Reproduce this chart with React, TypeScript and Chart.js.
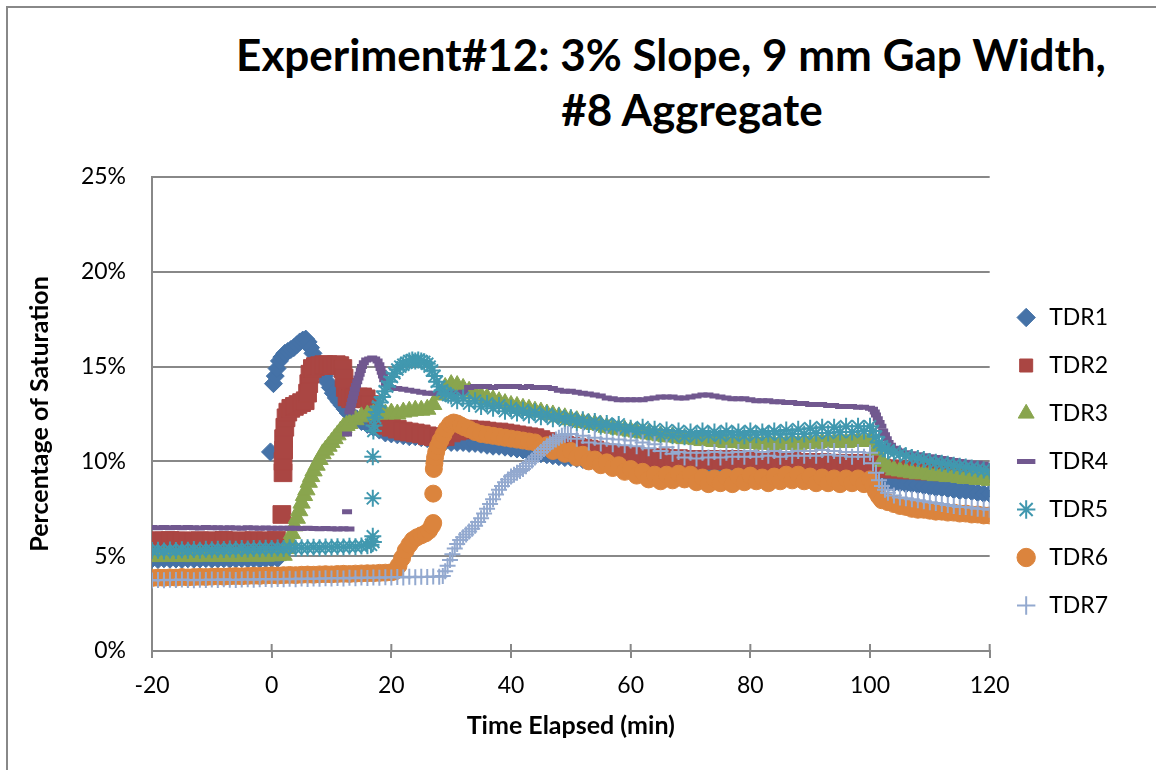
import React, { useEffect, useRef } from "react";
import { Chart, registerables } from "chart.js";
Chart.register(...registerables);

type P = [number, number];

const seriesNames = ["TDR1", "TDR2", "TDR3", "TDR4", "TDR5", "TDR6", "TDR7"];
const seriesColors = ["#4572A7", "#AA4643", "#89A54E", "#71588F", "#4198AF", "#DB843D", "#93A9CF"];
const seriesStyles = ["rectRot", "rect", "triangle", "line", "star", "circle", "cross"];
const xTickValues = [-20, 0, 20, 40, 60, 80, 100, 120];
const yTickValues = [0, 5, 10, 15, 20, 25];
const chartTitle = ["Experiment#12: 3% Slope, 9 mm Gap Width,", "#8 Aggregate"];
const xTitle = "Time Elapsed (min)";
const yTitle = "Percentage of Saturation";

const tdr1: P[] = [
  [-20,4.85],[-19,4.82],[-18,4.86],[-17,4.84],[-16,4.85],[-15,4.83],[-14,4.86],[-13,4.84],[-12,4.85],[-11,4.87],[-10,4.84],[-9,4.85],[-8,4.86],[-7,4.84],[-6,4.85],[-5,4.87],[-4,4.85],[-3,4.86],[-2,4.84],[-1,4.86],[0,4.87],[1,4.88],
  [-0.2,10.5],[0.3,14.1],[0.6,14.5],[0.9,14.9],[1.3,15.3],[1.7,15.5],[2.2,15.7],[2.7,15.8],[3.2,15.9],[3.7,16.0],[4.2,16.15],[4.7,16.3],[5.2,16.4],[5.7,16.45],[6.1,16.3],[6.5,16.0],[6.9,15.7],[7.3,15.4],[7.8,15.1],[8.3,14.8],[8.8,14.5],[9.3,14.2],[9.8,13.9],[10.3,13.6],[10.8,13.35],[11.3,13.15],[11.8,12.95],[12.3,12.75],[12.8,12.55],[13.5,12.4],[14.2,12.25],[15,12.1],[16,11.95],[17,11.8],[18,11.65],[19,11.5],[20,11.45],
  [21,11.4],[22,11.35],[23,11.3],[24,11.3],[25,11.25],[26,11.2],[27,11.15],[28,11.1],[29,11.05],[30,11.0],[31,11.0],[32,11.0],[33,10.95],[34,10.95],[35,10.9],[36,10.85],[37,10.8],[38,10.8],[39,10.75],[40,10.7],
  [41,10.65],[42,10.6],[43,10.5],[44,10.45],[45,10.4],[46,10.35],[47,10.3],[48,10.25],[49,10.2],[50,10.2],[51,10.15],[52,10.1],[53,10.1],[54,10.05],[55,10.05],[56,10.0],[57,10.0],[58,9.95],[59,9.95],[60,9.9],
  [61,9.9],[62,9.85],[63,9.9],[64,9.85],[65,9.85],[66,9.8],[67,9.85],[68,9.8],[69,9.85],[70,9.8],[71,9.8],[72,9.85],[73,9.8],[74,9.8],[75,9.75],[76,9.8],[77,9.75],[78,9.8],[79,9.75],[80,9.75],
  [81,9.8],[82,9.75],[83,9.75],[84,9.7],[85,9.75],[86,9.7],[87,9.75],[88,9.7],[89,9.7],[90,9.75],[91,9.7],[92,9.7],[93,9.75],[94,9.7],[95,9.7],[96,9.75],[97,9.7],[98,9.75],[99,9.7],[100,9.7],
  [100.6,9.45],[101.2,9.2],[101.8,9.05],[102.5,8.95],[103.2,8.9],[104,8.85],[105,8.85],[106,8.8],[107,8.8],[108,8.75],[109,8.7],[110,8.65],[111,8.6],[112,8.6],[113,8.55],[114,8.5],[115,8.45],[116,8.45],[117,8.4],[118,8.35],[119,8.3],[120,8.3],
];

const tdr2: P[] = [
  [-20,5.82],[-19,5.78],[-18,5.8],[-17,5.83],[-16,5.79],[-15,5.81],[-14,5.8],[-13,5.78],[-12,5.82],[-11,5.8],[-10,5.79],[-9,5.81],[-8,5.83],[-7,5.8],[-6,5.78],[-5,5.81],[-4,5.8],[-3,5.82],[-2,5.79],[-1,5.81],[0,5.8],[0.8,5.85],
  [1.7,7.2],[1.9,9.4],[1.9,10.0],[2,10.6],[2,11.2],[2.2,11.8],[2.4,12.3],[2.7,12.6],[3.2,12.8],[3.8,12.9],[4.4,13.0],[5,13.1],[5.6,13.2],[6,13.6],[6.2,14.1],[6.4,14.6],[6.8,14.9],[7.3,15.0],[8,15.05],[8.7,15.1],[9.4,15.1],[10.1,15.05],[10.8,15.1],[11.4,15.05],[11.9,14.9],[12.1,14.4],[12.3,13.9],[12.6,13.4],[13.2,13.3],[13.8,13.35],[14.5,13.4],[15.2,13.4],[15.8,13.3],[16.4,13.0],[17,12.6],[17.6,12.3],[18.2,12.1],[19,11.9],[20,11.8],
  [21,11.7],[22,11.6],[23,11.55],[24,11.5],[25,11.45],[26,11.35],[27,11.3],[28,11.25],[29,11.3],[30,11.5],[31,11.6],[32,11.7],[33,11.7],[34,11.65],[35,11.65],[36,11.6],[37,11.55],[38,11.55],[39,11.5],[40,11.45],
  [41,11.4],[42,11.35],[43,11.3],[44,11.25],[45,11.15],[46,11.05],[47,10.95],[48,10.9],[49,10.85],[50,10.8],[51,10.75],[52,10.7],[53,10.65],[54,10.6],[55,10.5],[56,10.45],[57,10.4],[58,10.35],[59,10.3],[60,10.3],
  [61,10.25],[62,10.2],[63,10.2],[64,10.15],[65,10.2],[66,10.15],[67,10.1],[68,10.15],[69,10.1],[70,10.1],[71,10.05],[72,10.1],[73,10.1],[74,10.05],[75,10.1],[76,10.05],[77,10.1],[78,10.1],[79,10.05],[80,10.1],
  [81,10.05],[82,10.0],[83,10.05],[84,10.0],[85,10.0],[86,9.95],[87,10.0],[88,9.95],[89,9.95],[90,9.95],[91,9.9],[92,9.95],[93,9.9],[94,9.9],[95,9.9],[96,9.9],[97,9.85],[98,9.9],[99,9.85],[100,9.85],
  [101,9.75],[102,9.65],[103,9.6],[104,9.6],[105,9.6],[106,9.55],[107,9.55],[108,9.55],[109,9.5],[110,9.5],[111,9.5],[112,9.45],[113,9.45],[114,9.45],[115,9.4],[116,9.4],[117,9.4],[118,9.4],[119,9.35],[120,9.35],
];

const tdr3: P[] = [
  [-20,5.0],[-19,4.98],[-18,5.02],[-17,5.0],[-16,4.99],[-15,5.01],[-14,5.0],[-13,4.98],[-12,5.01],[-11,5.0],[-10,5.02],[-9,4.99],[-8,5.0],[-7,5.01],[-6,4.99],[-5,5.0],[-4,5.02],[-3,5.0],[-2,5.01],[-1,5.0],[0,5.02],[1,5.03],[2,5.05],
  [2.6,5.4],[3,5.8],[3.4,6.2],[3.8,6.6],[4.2,7.0],[4.6,7.4],[5,7.8],[5.4,8.2],[5.8,8.5],[6.2,8.9],[6.6,9.2],[7,9.5],[7.5,9.8],[8,10.1],[8.5,10.4],[9,10.6],[9.5,10.8],[10,11.0],[10.5,11.2],[11,11.4],[11.5,11.6],[12,11.8],[12.5,11.9],[13,12.0],[14,12.2],[15,12.35],[16,12.45],[17,12.5],[18,12.5],[19,12.5],[20,12.55],
  [21,12.5],[22,12.6],[23,12.65],[24,12.7],[25,12.7],[26,12.75],[27,13.0],[28,13.5],[29,13.9],[30,14.05],[31,14.0],[32,13.85],[33,13.7],[34,13.55],[35,13.45],[36,13.35],[37,13.25],[38,13.15],[39,13.05],[40,12.95],
  [41,12.9],[42,12.8],[43,12.75],[44,12.65],[45,12.6],[46,12.5],[47,12.45],[48,12.35],[49,12.3],[50,12.2],[51,12.15],[52,12.05],[53,12.0],[54,11.95],[55,11.9],[56,11.8],[57,11.75],[58,11.7],[59,11.65],[60,11.6],
  [61,11.55],[62,11.5],[63,11.45],[64,11.4],[65,11.35],[66,11.3],[67,11.3],[68,11.25],[69,11.2],[70,11.2],[71,11.15],[72,11.1],[73,11.1],[74,11.05],[75,11.05],[76,11.0],[77,11.0],[78,11.0],[79,10.95],[80,10.95],
  [81,10.95],[82,10.9],[83,10.95],[84,10.9],[85,10.9],[86,10.9],[87,10.95],[88,10.9],[89,10.95],[90,10.95],[91,10.95],[92,11.0],[93,11.0],[94,11.0],[95,11.05],[96,11.0],[97,11.05],[98,11.1],[99,11.05],[100,11.1],
  [101,10.6],[102,10.0],[103,9.7],[104,9.55],[105,9.5],[106,9.45],[107,9.4],[108,9.35],[109,9.35],[110,9.3],[111,9.25],[112,9.25],[113,9.2],[114,9.2],[115,9.15],[116,9.1],[117,9.1],[118,9.05],[119,9.05],[120,9.0],
];

const tdr4: P[] = [
  [-20,6.52],[-19,6.5],[-18,6.51],[-17,6.5],[-16,6.52],[-15,6.5],[-14,6.51],[-13,6.5],[-12,6.49],[-11,6.51],[-10,6.5],[-9,6.5],[-8,6.49],[-7,6.5],[-6,6.49],[-5,6.48],[-4,6.5],[-3,6.49],[-2,6.48],[-1,6.49],[0,6.48],
  [1,6.48],[2,6.47],[3,6.48],[4,6.47],[5,6.46],[6,6.47],[7,6.46],[8,6.45],[9,6.46],[10,6.45],[11,6.44],[12,6.45],[13,6.44],
  [12.6,7.35],[12.6,11.45],
  [13,12.6],[13.15,12.8],[13.3,13.0],[13.45,13.2],[13.6,13.4],[13.75,13.6],[13.9,13.8],[14.1,14.0],[14.3,14.2],[14.5,14.4],[14.7,14.6],[14.9,14.8],[15.1,15.0],[15.4,15.2],[15.8,15.35],[16.3,15.4],[16.8,15.45],[17.3,15.4],[17.7,15.3],[18,15.1],[18.2,14.9],[18.4,14.7],[18.6,14.5],[18.8,14.3],[19.1,14.1],[19.5,13.95],[20,13.9],
  [21,13.85],[22,13.8],[23,13.75],[24,13.7],[25,13.65],[26,13.6],[27,13.6],[28,13.6],[29,13.6],[30,13.6],[31,13.6],[32,13.65],[33,13.9],[34,13.95],[35,13.95],[36,13.95],[37,13.9],[38,13.95],[39,13.95],[40,13.95],
  [41,13.95],[42,13.9],[43,13.95],[44,13.9],[45,13.9],[46,13.9],[47,13.85],[48,13.75],[49,13.7],[50,13.7],[51,13.65],[52,13.6],[53,13.55],[54,13.5],[55,13.45],[56,13.35],[57,13.3],[58,13.25],[59,13.25],[60,13.25],
  [61,13.25],[62,13.25],[63,13.3],[64,13.35],[65,13.4],[66,13.4],[67,13.4],[68,13.35],[69,13.35],[70,13.4],[71,13.45],[72,13.5],[73,13.5],[74,13.45],[75,13.4],[76,13.35],[77,13.3],[78,13.3],[79,13.3],[80,13.25],
  [81,13.2],[82,13.2],[83,13.2],[84,13.15],[85,13.15],[86,13.1],[87,13.1],[88,13.05],[89,13.05],[90,13.0],[91,13.0],[92,13.0],[93,12.95],[94,12.95],[95,12.9],[96,12.9],[97,12.9],[98,12.85],[99,12.85],[100,12.8],
  [100.5,12.75],[100.8,12.6],[101,12.45],[101.3,12.25],[101.6,12.05],[101.9,11.85],[102.2,11.6],[102.5,11.4],[102.8,11.2],[103.1,11.0],[103.5,10.85],[104,10.7],[104.5,10.6],[105,10.55],[106,10.45],[107,10.4],[108,10.35],[109,10.3],[110,10.25],
  [111,10.2],[112,10.15],[113,10.1],[114,10.05],[115,10.0],[116,9.95],[117,9.9],[118,9.9],[119,9.85],[120,9.8],
];

const tdr5: P[] = [
  [-20,5.3],[-19,5.32],[-18,5.28],[-17,5.33],[-16,5.3],[-15,5.34],[-14,5.31],[-13,5.35],[-12,5.32],[-11,5.36],[-10,5.34],[-9,5.37],[-8,5.35],[-7,5.38],[-6,5.36],[-5,5.4],[-4,5.38],[-3,5.41],[-2,5.39],[-1,5.42],[0,5.4],
  [1,5.43],[2,5.41],[3,5.44],[4,5.43],[5,5.45],[6,5.44],[7,5.47],[8,5.45],[9,5.48],[10,5.47],[11,5.5],[12,5.49],[13,5.52],[14,5.5],[15,5.54],[16,5.55],[16.6,5.6],[17,5.75],
  [16.9,6.05],[16.9,8.05],[16.9,10.25],[17,11.6],[17.1,11.9],[17.3,12.3],[17.5,12.6],[17.8,12.9],[18.1,13.1],[18.5,13.4],[18.9,13.7],[19.3,13.95],[19.7,14.2],[20.1,14.45],[20.5,14.65],[21,14.85],[21.5,15.0],[22,15.1],[22.5,15.2],[23,15.3],[23.5,15.35],[24,15.3],[24.5,15.35],[25,15.3],[25.5,15.25],[26,15.15],[26.4,15.0],[26.8,14.8],[27.2,14.5],[27.6,14.2],[28,13.95],[28.5,13.75],[29,13.6],[29.5,13.5],
  [30,13.45],[31,13.2],[32,13.35],[33,13.05],[34,13.2],[35,12.9],[36,13.05],[37,12.8],[38,12.95],[39,12.65],[40,12.8],
  [41,12.55],[42,12.7],[43,12.45],[44,12.6],[45,12.35],[46,12.5],[47,12.25],[48,12.4],[49,12.15],[50,12.3],[51,12.05],[52,12.2],[53,11.95],[54,12.1],[55,11.85],[56,12.0],[57,11.8],[58,11.95],[59,11.7],[60,11.75],
  [61,11.55],[62,11.8],[63,11.5],[64,11.7],[65,11.4],[66,11.65],[67,11.35],[68,11.6],[69,11.3],[70,11.55],[71,11.35],[72,11.6],[73,11.4],[74,11.55],[75,11.35],[76,11.6],[77,11.4],[78,11.55],[79,11.35],[80,11.6],
  [81,11.4],[82,11.55],[83,11.45],[84,11.6],[85,11.4],[86,11.65],[87,11.45],[88,11.7],[89,11.45],[90,11.75],[91,11.5],[92,11.8],[93,11.5],[94,11.8],[95,11.55],[96,11.85],[97,11.55],[98,11.85],[99,11.6],[100,11.85],
  [100.5,11.6],[101,11.3],[101.5,11.0],[102,10.8],[102.5,10.65],[103,10.55],[104,10.45],[105,10.4],[106,10.3],[107,10.2],[108,10.15],[109,10.1],[110,10.0],
  [111,9.95],[112,9.9],[113,9.85],[114,9.8],[115,9.75],[116,9.7],[117,9.65],[118,9.6],[119,9.55],[120,9.5],
];

const tdr6: P[] = [
  [-20,3.85],[-19,3.87],[-18,3.86],[-17,3.88],[-16,3.87],[-15,3.9],[-14,3.88],[-13,3.9],[-12,3.91],[-11,3.9],[-10,3.92],[-9,3.93],[-8,3.92],[-7,3.94],[-6,3.95],[-5,3.94],[-4,3.96],[-3,3.97],[-2,3.96],[-1,3.98],[0,3.99],
  [1,3.98],[2,4.0],[3,4.01],[4,4.0],[5,4.02],[6,4.03],[7,4.02],[8,4.04],[9,4.05],[10,4.04],[11,4.06],[12,4.07],[13,4.06],[14,4.08],[15,4.09],[16,4.1],[17,4.1],[18,4.12],[19,4.13],[20,4.15],
  [20.6,4.2],[21.2,4.5],[21.8,4.9],[22.4,5.3],[23,5.6],[23.6,5.85],[24.3,6.0],[25,6.1],[25.7,6.2],[26.3,6.35],[26.8,6.6],[27,6.75],[27,8.3],[27.1,9.6],[27.2,9.9],[27.3,10.2],[27.5,10.5],[27.8,10.8],[28.2,11.1],[28.7,11.4],[29.2,11.7],[29.8,11.95],[30.4,12.05],
  [31,12.0],[31.6,11.9],[32.2,11.8],[33,11.7],[34,11.55],[35,11.45],[36,11.4],[37,11.35],[38,11.3],[39,11.25],[40,11.2],[41,11.15],[42,11.1],[43,11.05],
  [44,11.0],[45,10.75],[46,10.85],[47,10.55],[48,10.7],[49,10.4],[50,10.55],[51,10.2],[52,10.35],[53,10.0],[54,10.1],[55,9.8],[56,9.95],[57,9.65],[58,9.8],[59,9.45],[60,9.6],
  [61,9.25],[62,9.45],[63,9.05],[64,9.3],[65,8.95],[66,9.3],[67,9.0],[68,9.35],[69,9.05],[70,9.3],[71,8.9],[72,9.15],[73,8.8],[74,9.1],[75,8.85],[76,9.15],[77,8.8],[78,9.2],[79,8.9],[80,9.25],
  [81,8.95],[82,9.15],[83,8.85],[84,9.2],[85,8.95],[86,9.3],[87,9.0],[88,9.3],[89,8.95],[90,9.2],[91,8.85],[92,9.15],[93,8.85],[94,9.1],[95,8.8],[96,9.1],[97,8.85],[98,9.1],[99,8.8],[100,9.05],
  [100.5,8.7],[101,8.4],[101.5,8.15],[102,7.95],[103,7.85],[104,7.75],[105,7.65],[106,7.6],[107,7.5],[108,7.45],[109,7.45],[110,7.4],
  [111,7.35],[112,7.35],[113,7.3],[114,7.3],[115,7.25],[116,7.25],[117,7.2],[118,7.2],[119,7.15],[120,7.15],
];

const tdr7: P[] = [
  [-20,3.72],[-19,3.75],[-18,3.73],[-17,3.76],[-16,3.74],[-15,3.77],[-14,3.75],[-13,3.73],[-12,3.76],[-11,3.74],[-10,3.77],[-9,3.75],[-8,3.78],[-7,3.76],[-6,3.74],[-5,3.77],[-4,3.79],[-3,3.76],[-2,3.78],[-1,3.8],[0,3.77],
  [1,3.8],[2,3.78],[3,3.81],[4,3.79],[5,3.82],[6,3.8],[7,3.83],[8,3.81],[9,3.84],[10,3.82],[11,3.85],[12,3.83],[13,3.86],[14,3.84],[15,3.87],[16,3.85],[17,3.88],[18,3.86],[19,3.89],[20,3.87],
  [21,3.9],[22,3.88],[23,3.91],[24,3.89],[25,3.92],[26,3.9],[27,3.93],[28,3.91],[28.6,3.95],[29,4.2],[29.4,4.5],[29.8,4.8],[30.2,5.1],[30.6,5.4],[31,5.65],[31.5,5.85],[32,6.0],[32.5,6.15],[33,6.3],[33.5,6.45],[34,6.6],[34.5,6.8],[35,7.0],
  [35.5,7.25],[36,7.5],[36.5,7.75],[37,8.0],[37.5,8.25],[38,8.5],[38.5,8.7],[39,8.9],[39.5,9.05],[40,9.2],[40.5,9.3],[41,9.4],[41.5,9.5],[42,9.6],[42.5,9.75],[43,9.9],[43.5,10.05],[44,10.2],[44.5,10.35],[45,10.5],
  [45.5,10.65],[46,10.8],[46.5,10.95],[47,11.05],[47.5,11.15],[48,11.25],[48.5,11.35],[49,11.4],[49.5,11.45],
  [50,11.45],[51,11.2],[52,11.35],[53,11.0],[54,11.25],[55,10.95],[56,11.2],[57,10.9],[58,11.15],[59,10.85],[60,11.1],
  [61,10.8],[62,11.0],[63,10.7],[64,10.9],[65,10.55],[66,10.75],[67,10.4],[68,10.5],[69,10.2],[70,10.45],[71,10.15],[72,10.45],[73,10.2],[74,10.5],[75,10.2],[76,10.45],[77,10.25],[78,10.5],[79,10.25],[80,10.55],
  [81,10.25],[82,10.5],[83,10.3],[84,10.55],[85,10.25],[86,10.5],[87,10.3],[88,10.55],[89,10.3],[90,10.55],[91,10.3],[92,10.6],[93,10.35],[94,10.55],[95,10.3],[96,10.5],[97,10.25],[98,10.5],[99,10.25],[100,10.45],
  [100.5,9.9],[101,9.4],[101.5,9.0],[102,8.7],[102.5,8.5],[103,8.35],[104,8.2],[105,8.1],[106,8.05],[107,8.0],[108,7.95],[109,7.9],[110,7.85],
  [111,7.8],[112,7.75],[113,7.7],[114,7.65],[115,7.6],[116,7.6],[117,7.55],[118,7.5],[119,7.5],[120,7.45],
];

const seriesData = [tdr1, tdr2, tdr3, tdr4, tdr5, tdr6, tdr7];
const seriesRadius = [9, 12.5, 10, 5, 8.5, 8.5, 8];
const seriesBorder = [1, 1, 1, 5, 2, 1, 2];

const FONT = "Lato, 'Open Sans', sans-serif";

const xTickCross = {
  id: "xTickCross",
  beforeDatasetsDraw(chart: any) {
    const xs = chart.scales.x;
    const ctx = chart.ctx;
    const bottom = chart.chartArea.bottom;
    ctx.save();
    ctx.strokeStyle = "#888888";
    ctx.lineWidth = 2;
    xs.ticks.forEach((t: any) => {
      const px = xs.getPixelForValue(t.value);
      ctx.beginPath();
      ctx.moveTo(px, bottom - 7);
      ctx.lineTo(px, bottom);
      ctx.stroke();
    });
    ctx.restore();
  },
};

export default function App() {
  const ref = useRef<HTMLCanvasElement>(null);
  useEffect(() => {
    const datasets = seriesNames.map((name, i) => ({
      label: name,
      data: seriesData[i].map(([x, y]) => ({ x, y })),
      showLine: false,
      pointStyle: seriesStyles[i],
      pointRadius: seriesRadius[i],
      pointHoverRadius: seriesRadius[i],
      pointBackgroundColor: seriesColors[i],
      pointBorderColor: seriesColors[i],
      pointBorderWidth: seriesBorder[i],
      backgroundColor: seriesColors[i],
      borderColor: seriesColors[i],
      order: 7 - i,
    }));
    const chart = new Chart(ref.current!, {
      type: "scatter",
      data: { datasets },
      plugins: [xTickCross],
      options: {
        animation: false,
        responsive: false,
        devicePixelRatio: 1,
        layout: { padding: { top: 177, bottom: 24, left: 0, right: 38 } },
        plugins: {
          title: { display: false },
          tooltip: { enabled: false },
          legend: {
            display: true,
            position: "right",
            align: "center",
            labels: {
              usePointStyle: true,
              boxWidth: 23,
              boxHeight: 13,
              padding: 25,
              color: "#000000",
              font: { family: FONT, size: 23 },
              sort: (a: any, b: any) => a.datasetIndex - b.datasetIndex,
            },
          },
        },
        scales: {
          x: {
            type: "linear",
            min: -20,
            max: 120,
            afterFit: (s: any) => { s.height = 95; },
            afterBuildTicks: (s: any) => { s.ticks = xTickValues.map((v) => ({ value: v })); },
            ticks: { color: "#000000", font: { family: FONT, size: 23 }, padding: 14, maxRotation: 0 },
            grid: { drawOnChartArea: false, drawTicks: true, tickLength: 7, color: "#888888", lineWidth: 2 },
            border: { display: true, color: "#888888", width: 2 },
            title: { display: true, text: xTitle, color: "#000000", font: { family: FONT, size: 25, weight: "bold" }, padding: { top: 0, bottom: 5 } },
          },
          y: {
            type: "linear",
            min: 0,
            max: 25,
            afterFit: (s: any) => { s.width = 152; },
            afterBuildTicks: (s: any) => { s.ticks = yTickValues.map((v) => ({ value: v })); },
            ticks: { color: "#000000", font: { family: FONT, size: 23 }, padding: 26, callback: (v: any) => v + "%" },
            grid: { drawTicks: false, color: "#888888", lineWidth: 2 },
            border: { display: true, color: "#888888", width: 2 },
            title: { display: true, text: yTitle, color: "#000000", font: { family: FONT, size: 25, weight: "bold" }, padding: { top: 25, bottom: 0 } },
          },
        },
      },
    } as any);
    return () => chart.destroy();
  }, []);

  return (
    <div style={{ position: "absolute", left: 0, top: 0, width: 1156, height: 770, overflow: "hidden", background: "#ffffff" }}>
      <div style={{ position: "absolute", left: 6, top: 6, width: 1300, height: 900, borderTop: "2px solid #888888", borderLeft: "2px solid #888888" }} />
      <div style={{ position: "absolute", left: 171, width: 1000, top: 27, textAlign: "center", fontFamily: FONT, fontWeight: 700, fontSize: 44, lineHeight: "54px", color: "#000", whiteSpace: "nowrap" }}>{chartTitle[0]}</div>
      <div style={{ position: "absolute", left: 192, width: 1000, top: 82, textAlign: "center", fontFamily: FONT, fontWeight: 700, fontSize: 44, lineHeight: "54px", color: "#000", whiteSpace: "nowrap" }}>{chartTitle[1]}</div>
      <canvas ref={ref} width={1156} height={770} style={{ position: "absolute", left: 0, top: 0, width: 1156, height: 770 }} />
    </div>
  );
}
